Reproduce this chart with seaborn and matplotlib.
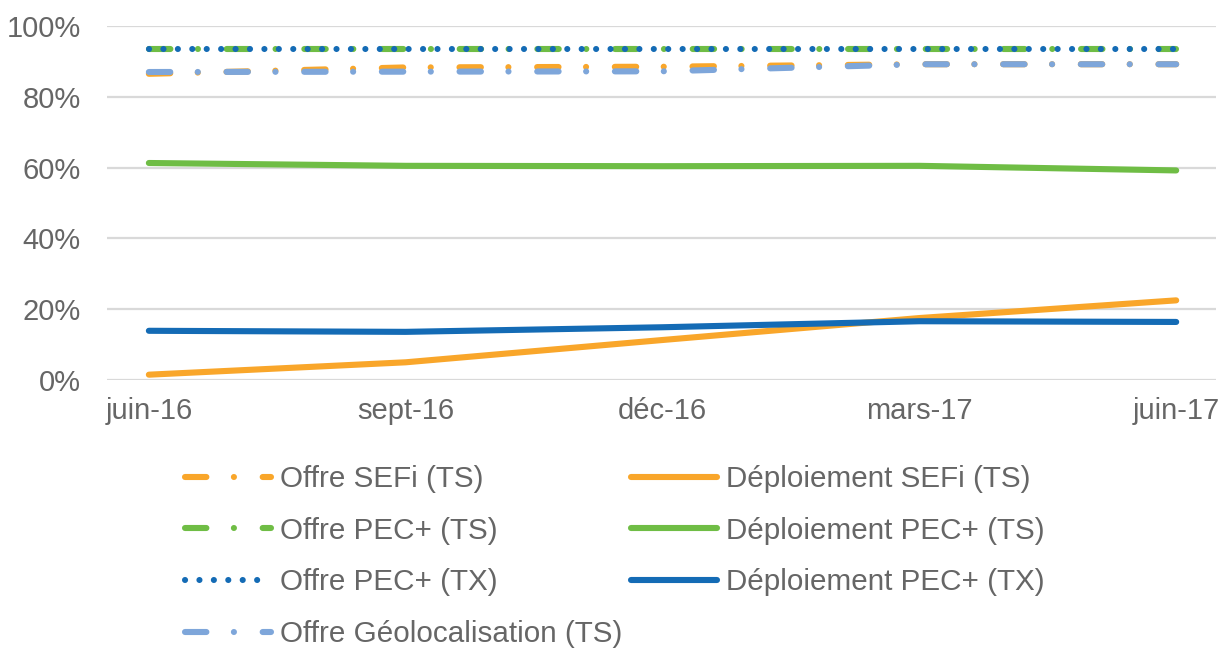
import matplotlib
matplotlib.use("Agg")
import matplotlib.pyplot as plt
from matplotlib.ticker import FuncFormatter
import pandas as pd
import seaborn as sns

sns.set_theme(style="white")
plt.rcParams["font.family"] = ["Liberation Sans", "DejaVu Sans"]

# données (en %)
periodes = ["juin-16", "sept-16", "déc-16", "mars-17", "juin-17"]
offre_sefi_ts = [86.5, 88.3, 88.5, 89.2, 89.2]
deploi_sefi_ts = [1.5, 5.0, 11.3, 17.5, 22.5]
offre_pec_ts = [93.5, 93.5, 93.5, 93.5, 93.5]
deploi_pec_ts = [61.3, 60.5, 60.4, 60.5, 59.2]
offre_pec_tx = [93.5, 93.5, 93.5, 93.5, 93.5]
deploi_pec_tx = [13.9, 13.6, 14.9, 16.6, 16.4]
offre_geoloc_ts = [87.0, 87.1, 87.2, 89.2, 89.2]

ORANGE = "#F9A62A"
GREEN = "#6FBD45"
BLUE = "#146BB5"
LIGHT = "#7EA6DA"
GREY = "#666666"

DASHDOT = (0, (3.5, 4.5, 0.01, 4.7))
DOTS = (0, (0.01, 2.35))

# ordre de tracé = ordre de superposition
series = [
    ("Déploiement SEFi (TS)", deploi_sefi_ts, ORANGE, "-"),
    ("Déploiement PEC+ (TS)", deploi_pec_ts, GREEN, "-"),
    ("Déploiement PEC+ (TX)", deploi_pec_tx, BLUE, "-"),
    ("Offre SEFi (TS)", offre_sefi_ts, ORANGE, DASHDOT),
    ("Offre Géolocalisation (TS)", offre_geoloc_ts, LIGHT, DASHDOT),
    ("Offre PEC+ (TS)", offre_pec_ts, GREEN, DASHDOT),
    ("Offre PEC+ (TX)", offre_pec_tx, BLUE, DOTS),
]

fig = plt.figure(figsize=(12.2, 6.5), dpi=100)
ax = fig.add_axes([107 / 1220, 1 - 380 / 650, (1216 - 107) / 1220, (380 - 26) / 650])

handles = {}
for label, vals, color, ls in series:
    df = pd.DataFrame({"x": range(len(periodes)), "y": vals})
    sns.lineplot(data=df, x="x", y="y", color=color, lw=4.4, ax=ax, label=label,
                 sort=False, solid_capstyle="round", dash_capstyle="round")
    line = ax.get_lines()[-1]
    line.set_linestyle(ls)
    handles[label] = line

ax.set_xlim(-0.163, 4.155)
ax.set_ylim(0, 100)
ax.set_xticks(range(len(periodes)))
ax.set_xticklabels(periodes)
ax.set_yticks(range(0, 101, 20))
ax.yaxis.set_major_formatter(FuncFormatter(lambda v, _: f"{v:.0f}%"))
ax.set(xlabel="", ylabel="")
ax.grid(axis="y", color="#D9D9D9", lw=1.6)
ax.set_axisbelow(True)
for s in ax.spines.values():
    s.set_visible(False)
ax.tick_params(axis="both", length=0, labelsize=21, labelcolor=GREY)
ax.tick_params(axis="y", pad=19)
ax.tick_params(axis="x", pad=12)
ax.get_legend().remove()

order = ["Offre SEFi (TS)", "Offre PEC+ (TS)", "Offre PEC+ (TX)", "Offre Géolocalisation (TS)",
         "Déploiement SEFi (TS)", "Déploiement PEC+ (TS)", "Déploiement PEC+ (TX)"]
leg = fig.legend([handles[k] for k in order], order, ncol=2, loc="upper left",
                 bbox_to_anchor=(185 / 1220, 1 - 465 / 650), frameon=False, borderpad=0,
                 borderaxespad=0, fontsize=21.3, handlelength=2.9, handletextpad=0.3,
                 columnspacing=0.3, labelspacing=0.8, labelcolor=GREY)

fig.savefig("out.png", dpi=100)
